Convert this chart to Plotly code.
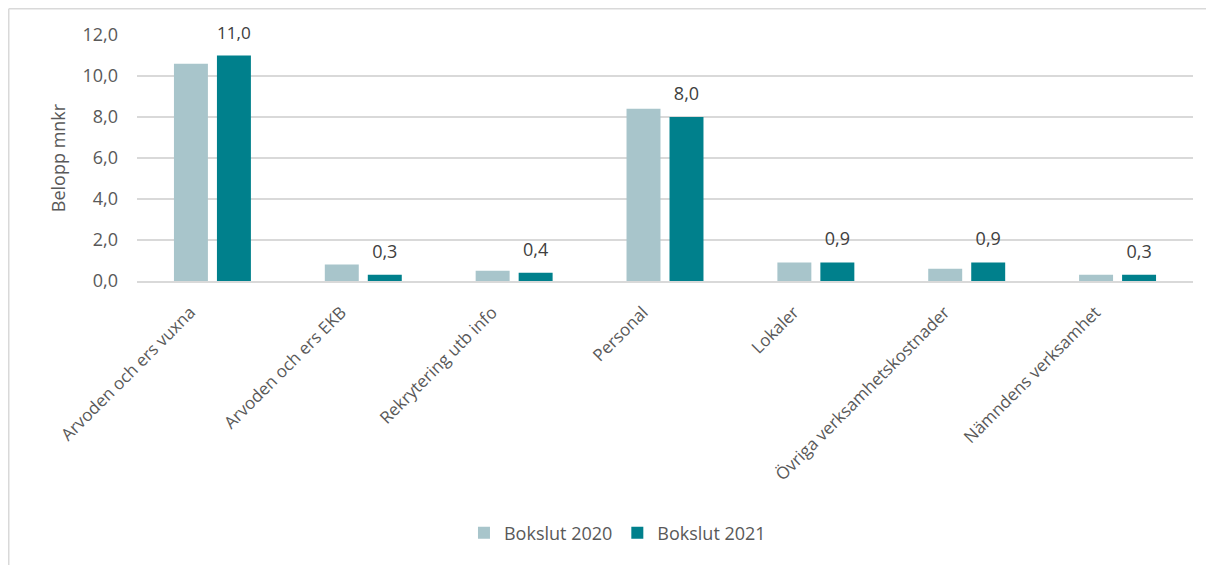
import plotly.graph_objs as go

categories = ["Arvoden och ers vuxna", "Arvoden och ers EKB", "Rekrytering utb info",
              "Personal", "Lokaler", "Övriga verksamhetskostnader", "Nämndens verksamhet"]
bokslut_2020 = [10.6, 0.8, 0.5, 8.4, 0.9, 0.6, 0.3]
bokslut_2021 = [11.0, 0.3, 0.4, 8.0, 0.9, 0.9, 0.3]
y_ticks = [0, 2, 4, 6, 8, 10, 12]

font = "Open Sans"
grey = "#595959"
label_pad = 0.45  # gap (in mnkr) between bar top and its value label

# the page body has an 8px margin, so the figure is a bit smaller than the window
W, H = 1206, 557
L, R, T, B = 129, 21, 27, 284
plot_w, plot_h = W - L - R, H - T - B

trace_2020 = go.Bar(x=categories, y=bokslut_2020, name="Bokslut 2020",
                    offsetgroup="2020",
                    marker={"color": "#A8C5CB", "line": {"width": 0}})
trace_2021 = go.Bar(x=categories, y=bokslut_2021, name="Bokslut 2021",
                    offsetgroup="2021",
                    marker={"color": "#00808C", "line": {"width": 0}})
# invisible bar sitting on top of 2021 bars, carries the value labels
labels_2021 = go.Bar(x=categories, y=[label_pad] * len(categories), base=bokslut_2021,
                     offsetgroup="2021", customdata=bokslut_2021, showlegend=False,
                     marker={"color": "rgba(0,0,0,0)", "line": {"width": 0}},
                     texttemplate="%{customdata:.1f}", textposition="outside",
                     cliponaxis=False, hoverinfo="skip",
                     textfont={"size": 18, "color": "#404040", "family": font})

layout = go.Layout(
    width=W, height=H,
    margin={"l": L, "r": R, "t": T, "b": B},
    paper_bgcolor="white", plot_bgcolor="white",
    font={"family": font, "color": grey, "size": 17},
    separators=",.",
    barmode="group", bargap=0.43, bargroupgap=0.21,
    xaxis={"tickangle": -45, "tickfont": {"size": 17, "color": grey},
           "ticklabelshift": -22, "ticklabelstandoff": 13,
           "showline": True, "linecolor": "#d9d9d9", "linewidth": 1.5,
           "ticks": "", "showgrid": False, "automargin": False},
    yaxis={"range": [0, 12], "tickvals": y_ticks, "tickformat": ".1f",
           "gridcolor": "#d9d9d9", "gridwidth": 1.5, "zeroline": False,
           "tickfont": {"size": 18, "color": grey}, "ticklabelstandoff": 18,
           "automargin": False,
           "title": {"text": "Belopp mnkr", "font": {"size": 18, "color": grey},
                     "standoff": 12}},
    legend={"orientation": "h", "x": 0.455, "xanchor": "center", "y": -252 / plot_h,
            "yanchor": "middle", "font": {"size": 18, "color": grey},
            "traceorder": "normal"},
    shapes=[
        {"type": "line", "xref": "paper", "yref": "paper",
         "x0": -(L - 0.75) / plot_w, "x1": -(L - 0.75) / plot_w,
         "y0": -(B + 5) / plot_h, "y1": 1 + (T - 0.75) / plot_h,
         "line": {"color": "#d9d9d9", "width": 1.5}},
        {"type": "line", "xref": "paper", "yref": "paper",
         "x0": -(L - 0.75) / plot_w, "x1": 1 + (R + 5) / plot_w,
         "y0": 1 + (T - 0.75) / plot_h, "y1": 1 + (T - 0.75) / plot_h,
         "line": {"color": "#d9d9d9", "width": 1.5}},
    ],
)

fig = go.Figure(data=[trace_2020, trace_2021, labels_2021], layout=layout)
fig.write_html("out.html")
